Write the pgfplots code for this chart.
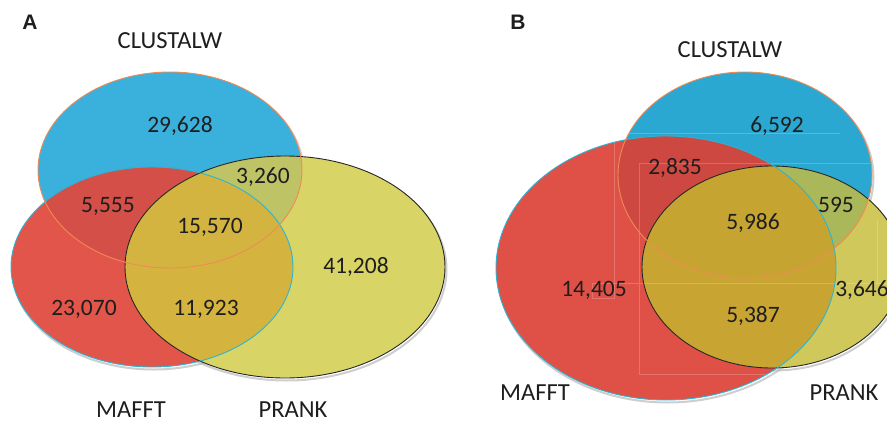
\documentclass[border=0pt]{standalone}
\usepackage{pgfplots}
\pgfplotsset{compat=1.18}
\usepackage{pgfplotstable}
\usepackage{fontspec}
\setmainfont{Carlito}
\newfontfamily\arialb{Liberation Sans}[BoldFont={* Bold}]
\definecolor{cblueA}{HTML}{3AB1DC}
\definecolor{credA}{HTML}{E2554A}
\definecolor{crbA}{HTML}{D44F48}
\definecolor{cyelA}{HTML}{D8D466}
\definecolor{cybA}{HTML}{BEC366}
\definecolor{cyrA}{HTML}{D4B43E}
\definecolor{callA}{HTML}{D3B441}
\definecolor{cblueB}{HTML}{2BA8D1}
\definecolor{credB}{HTML}{DF5046}
\definecolor{crbB}{HTML}{CC4841}
\definecolor{cyelB}{HTML}{D0C85B}
\definecolor{cybB}{HTML}{ABB85A}
\definecolor{cyrB}{HTML}{C8A532}
\definecolor{callB}{HTML}{C6A431}
\definecolor{corange}{HTML}{F08A55}
\definecolor{ccyan}{HTML}{2AB5D5}
\definecolor{ctext}{HTML}{1E1E1E}

\pgfplotstableread{
x y lab
180 126 29,628
263 177 3,260
108 206 5,555
210 227 15,570
356 267 41,208
84 309 23,070
206 309 11,923
777 126 6,592
675 168 2,835
836 205 595
753 223 5,986
594 290 14,405
862 290 3,646
753 316 5,387
}\counts

\pgfplotstableread{
x y lab
170 41 CLUSTALW
131 410 MAFFT
293 410 PRANK
730 50 CLUSTALW
535 393 MAFFT
844 393 PRANK
}\names

\begin{document}
\begin{tikzpicture}
\begin{axis}[scale only axis, width=887pt, height=421pt,
  xmin=0, xmax=887, ymin=0, ymax=421, y dir=reverse, hide axis, clip=true]
% ---------- Panel A ----------
\draw[gray!55, line width=2pt, opacity=0.7] (axis cs:171.5,172.5) ellipse [x radius=132, y radius=98];
\draw[gray!55, line width=2pt, opacity=0.7] (axis cs:153.5,269.5) ellipse [x radius=141, y radius=100];
\draw[gray!55, line width=2pt, opacity=0.7] (axis cs:286.5,269.5) ellipse [x radius=160, y radius=111];
\fill[cblueA] (axis cs:170,170) ellipse [x radius=132, y radius=98];
\fill[credA] (axis cs:152,267) ellipse [x radius=141, y radius=100];
\begin{scope}
\clip (axis cs:152,267) ellipse [x radius=141, y radius=100];
\fill[crbA] (axis cs:170,170) ellipse [x radius=132, y radius=98];
\end{scope}
\fill[cyelA] (axis cs:285,267) ellipse [x radius=160, y radius=111];
\begin{scope}
\clip (axis cs:285,267) ellipse [x radius=160, y radius=111];
\fill[cybA] (axis cs:170,170) ellipse [x radius=132, y radius=98];
\fill[cyrA] (axis cs:152,267) ellipse [x radius=141, y radius=100];
\clip (axis cs:152,267) ellipse [x radius=141, y radius=100];
\fill[callA] (axis cs:170,170) ellipse [x radius=132, y radius=98];
\end{scope}
\draw[black!85, line width=0.9pt] (axis cs:285,267) ellipse [x radius=160, y radius=111];
\draw[ccyan, line width=0.9pt] (axis cs:152,267) ellipse [x radius=141, y radius=100];
\draw[corange, line width=0.9pt] (axis cs:170,170) ellipse [x radius=132, y radius=98];
% ---------- Panel B ----------
\draw[gray!55, line width=2pt, opacity=0.7] (axis cs:746.5,177.5) ellipse [x radius=127, y radius=103];
\draw[gray!55, line width=2pt, opacity=0.7] (axis cs:667.5,270.5) ellipse [x radius=170, y radius=132];
\draw[gray!55, line width=2pt, opacity=0.7] (axis cs:773.5,269.5) ellipse [x radius=130, y radius=101];
\fill[cblueB] (axis cs:745,175) ellipse [x radius=127, y radius=103];
\fill[credB] (axis cs:666,268) ellipse [x radius=170, y radius=132];
\begin{scope}
\clip (axis cs:666,268) ellipse [x radius=170, y radius=132];
\fill[crbB] (axis cs:745,175) ellipse [x radius=127, y radius=103];
\end{scope}
\fill[cyelB] (axis cs:772,267) ellipse [x radius=130, y radius=101];
\begin{scope}
\clip (axis cs:772,267) ellipse [x radius=130, y radius=101];
\fill[cybB] (axis cs:745,175) ellipse [x radius=127, y radius=103];
\fill[cyrB] (axis cs:666,268) ellipse [x radius=170, y radius=132];
\clip (axis cs:666,268) ellipse [x radius=170, y radius=132];
\fill[callB] (axis cs:745,175) ellipse [x radius=127, y radius=103];
\end{scope}
\draw[white, opacity=0.2, line width=0.6pt]
  (axis cs:614,133) -- (axis cs:840,133)
  (axis cs:614,133) -- (axis cs:614,298) -- (axis cs:592,298) -- (axis cs:592,283) -- (axis cs:887,283)
  (axis cs:639,163) -- (axis cs:870,163)
  (axis cs:639,163) -- (axis cs:639,374) -- (axis cs:773,374)
  (axis cs:877,220) -- (axis cs:877,283);
\draw[black!85, line width=0.9pt] (axis cs:772,267) ellipse [x radius=130, y radius=101];
\draw[ccyan, line width=0.9pt] (axis cs:666,268) ellipse [x radius=170, y radius=132];
\draw[corange, line width=0.9pt] (axis cs:745,175) ellipse [x radius=127, y radius=103];
% ---------- labels ----------
\addplot[draw=none, mark=none, nodes near coords, point meta=explicit symbolic,
  nodes near coords style={anchor=center, inner sep=0pt, text=ctext, font=\fontsize{23.5}{26}\selectfont}]
  table[meta=lab] {\counts};
\addplot[draw=none, mark=none, nodes near coords, point meta=explicit symbolic,
  nodes near coords style={anchor=center, inner sep=0pt, text=ctext, font=\fontsize{24.5}{27}\selectfont}]
  table[meta=lab] {\names};
\node[anchor=center, inner sep=0pt, text=ctext, font=\arialb\bfseries\fontsize{21}{23}\selectfont] at (axis cs:30,22) {A};
\node[anchor=center, inner sep=0pt, text=ctext, font=\arialb\bfseries\fontsize{21}{23}\selectfont] at (axis cs:518,22.5) {B};
\end{axis}
\pgfresetboundingbox
\useasboundingbox (current axis.south west) rectangle (current axis.north east);
\end{tikzpicture}
\end{document}
